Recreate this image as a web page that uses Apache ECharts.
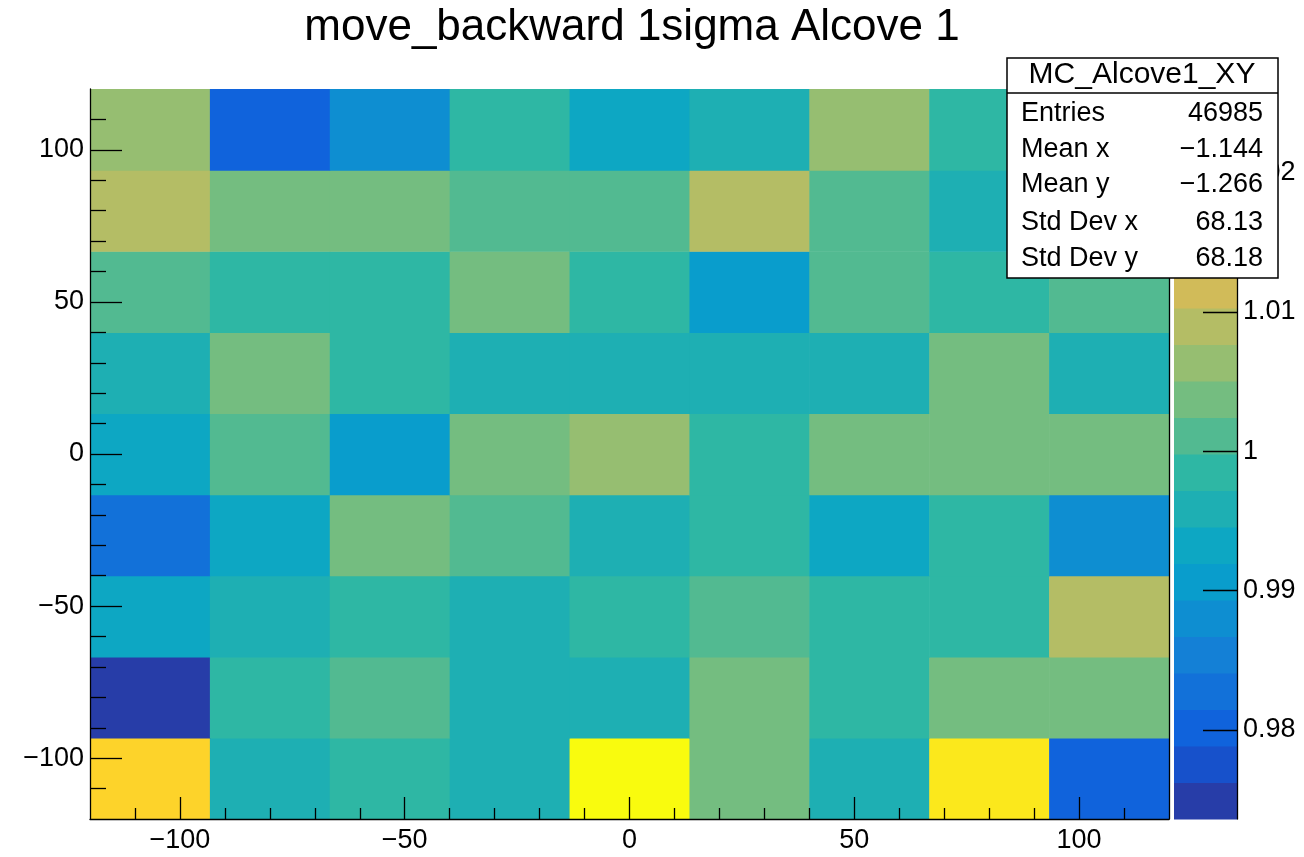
<!DOCTYPE html>
<html>
<head>
<meta charset="utf-8">
<script src="https://cdn.jsdelivr.net/npm/echarts@6/dist/echarts.min.js"></script>
<style>
html,body{margin:0;padding:0;background:#fff;}
#chart{width:1304px;height:857px;}
</style>
</head>
<body>
<div id="chart"></div>
<script>
// ---------- data ----------
const titleText = 'move_backward 1sigma Alcove 1';
const histName = 'MC_Alcove1_XY';
const xBinEdges = [-120, -93.333, -66.667, -40, -13.333, 13.333, 40, 66.667, 93.333, 120];
const yBinEdges = [-120, -93.333, -66.667, -40, -13.333, 13.333, 40, 66.667, 93.333, 120];
// rows of bin contents, from bottom (y = -120..-93) to top (y = 93..120)
const row0 = [1.0195, 0.9960, 0.9986, 0.9958, 1.0259, 1.0036, 0.9961, 1.0221, 0.9803];
const row1 = [0.9737, 0.9984, 1.0012, 0.9960, 0.9957, 1.0038, 0.9985, 1.0036, 1.0037];
const row2 = [0.9932, 0.9959, 0.9986, 0.9960, 0.9984, 1.0011, 0.9985, 0.9986, 1.0091];
const row3 = [0.9828, 0.9934, 1.0037, 1.0010, 0.9958, 0.9985, 0.9933, 0.9986, 0.9880];
const row4 = [0.9932, 1.0012, 0.9906, 1.0037, 1.0063, 0.9985, 1.0036, 1.0038, 1.0037];
const row5 = [0.9959, 1.0038, 0.9986, 0.9958, 0.9960, 0.9959, 0.9957, 1.0037, 0.9960];
const row6 = [1.0011, 0.9985, 0.9984, 1.0037, 0.9986, 0.9906, 1.0012, 0.9985, 1.0011];
const row7 = [1.0090, 1.0037, 1.0036, 1.0011, 1.0012, 1.0089, 1.0010, 0.9958, 0.9985];
const row8 = [1.0064, 0.9802, 0.9880, 0.9986, 0.9933, 0.9959, 1.0063, 0.9985, 0.9984];
const zRows = [row0, row1, row2, row3, row4, row5, row6, row7, row8];

const zMin = 0.9736, zMax = 1.0260, nContours = 20;
const birdPalette = ['#273da8','#1751cb','#1063dc','#1271d9','#1480d6','#0e8ed1','#099dcc','#0da7c3',
  '#1eafb3','#2eb7a4','#52ba91','#74bd80','#96be71','#b4bd65','#d1bb59','#e3c04a','#f5c63a','#fdd32a','#fbe81c','#f9fb0e'];

const xMajorTicks = [-100, -50, 0, 50, 100];
const xMinorTicks = [-110, -90, -80, -70, -60, -40, -30, -20, -10, 10, 20, 30, 40, 60, 70, 80, 90, 110];
const yMajorTicks = [-100, -50, 0, 50, 100];
const yMinorTicks = [-110, -90, -80, -70, -60, -40, -30, -20, -10, 10, 20, 30, 40, 60, 70, 80, 90, 110];
const zTicks = [0.98, 0.99, 1.00, 1.01, 1.02];
const zTickLabels = ['0.98', '0.99', '1', '1.01', '1.02'];

const statLabels = ['Entries', 'Mean x', 'Mean y', 'Std Dev x', 'Std Dev y'];
const statValues = ['46985', '\u22121.144', '\u22121.266', '68.13', '68.18'];

// ---------- build ----------
const FONT = "'Liberation Sans', Arial, Helvetica, sans-serif";
const cells = [];
zRows.forEach((row, j) => row.forEach((v, i) => cells.push([i, j, v])));

const bandW = (zMax - zMin) / nContours;
const pieces = [];
const bands = [];
for (let k = 0; k < nContours; k++) {
  const lo = zMin + k * bandW, hi = zMin + (k + 1) * bandW;
  const p = { gte: lo, color: birdPalette[k] };
  if (k < nContours - 1) p.lt = hi; else p.lte = hi + 1;
  if (k === 0) p.gte = lo - 1;
  pieces.push(p);
  bands.push([lo, hi, (lo + hi) / 2]);
}
const minus = s => String(s).replace('-', '\u2212');

const chart = echarts.init(document.getElementById('chart'), null, { renderer: 'canvas' });
const axisBlack = { color: '#000', width: 1.3 };
const AZ = 10;

const option = {
  animation: false,
  backgroundColor: '#fff',
  textStyle: { fontFamily: FONT },
  grid: [
    { left: 90, top: 89, width: 1079, height: 730, containLabel: false },
    { left: 1174, top: 89, width: 63, height: 730, containLabel: false }
  ],
  visualMap: {
    type: 'piecewise', show: false, dimension: 2, seriesIndex: [0, 1], pieces: pieces
  },
  xAxis: [
    { type: 'value', gridIndex: 0, min: -120, max: 120, position: 'bottom', z: AZ,
      axisLine: { show: true, onZero: false, lineStyle: axisBlack },
      axisTick: { show: true, inside: true, length: 22, lineStyle: axisBlack, customValues: xMajorTicks },
      axisLabel: { show: true, customValues: xMajorTicks, formatter: minus, color: '#000', fontSize: 27, fontFamily: FONT, margin: 8 },
      splitLine: { show: false } },
    { type: 'value', gridIndex: 0, min: -120, max: 120, position: 'bottom', z: AZ,
      axisLine: { show: false, onZero: false },
      axisTick: { show: true, inside: true, length: 11, lineStyle: axisBlack, customValues: xMinorTicks },
      axisLabel: { show: false }, splitLine: { show: false } },
    { type: 'value', gridIndex: 1, min: 0, max: 1, show: false }
  ],
  yAxis: [
    { type: 'value', gridIndex: 0, min: -120, max: 120, position: 'left', z: AZ,
      axisLine: { show: true, onZero: false, lineStyle: axisBlack },
      axisTick: { show: true, inside: true, length: 32, lineStyle: axisBlack, customValues: yMajorTicks },
      axisLabel: { show: true, customValues: yMajorTicks, formatter: minus, color: '#000', fontSize: 27, fontFamily: FONT, margin: 6 },
      splitLine: { show: false } },
    { type: 'value', gridIndex: 0, min: -120, max: 120, position: 'left', z: AZ,
      axisLine: { show: false, onZero: false },
      axisTick: { show: true, inside: true, length: 16, lineStyle: axisBlack, customValues: yMinorTicks },
      axisLabel: { show: false }, splitLine: { show: false } },
    { type: 'value', gridIndex: 0, min: -120, max: 120, position: 'right', z: AZ,
      axisLine: { show: true, onZero: false, lineStyle: axisBlack },
      axisTick: { show: false }, axisLabel: { show: false }, splitLine: { show: false } },
    { type: 'value', gridIndex: 1, min: zMin, max: zMax, position: 'right', z: AZ,
      axisLine: { show: true, onZero: false, lineStyle: axisBlack },
      axisTick: { show: true, inside: true, length: 34, lineStyle: axisBlack, customValues: zTicks },
      axisLabel: { show: true, customValues: zTicks, color: '#000', fontSize: 27, fontFamily: FONT, margin: 6,
        formatter: v => { const k = zTicks.findIndex(t => Math.abs(t - v) < 1e-6); return k >= 0 ? zTickLabels[k] : String(v); } },
      splitLine: { show: false } }
  ],
  series: [
    { type: 'custom', name: histName, coordinateSystem: 'cartesian2d', xAxisIndex: 0, yAxisIndex: 0,
      dimensions: ['ix', 'iy', 'z'], encode: { x: 0, y: 1 }, clip: true, z: 1,
      data: cells,
      renderItem: function (params, api) {
        const i = api.value(0), j = api.value(1);
        const p0 = api.coord([xBinEdges[i], yBinEdges[j + 1]]);
        const p1 = api.coord([xBinEdges[i + 1], yBinEdges[j]]);
        return { type: 'rect',
          shape: { x: p0[0], y: p0[1], width: p1[0] - p0[0] + 0.6, height: p1[1] - p0[1] + 0.6 },
          style: { fill: api.visual('color') } };
      } },
    { type: 'custom', name: 'palette', coordinateSystem: 'cartesian2d', xAxisIndex: 2, yAxisIndex: 3,
      dimensions: ['lo', 'hi', 'z'], encode: { x: 2, y: 1 }, z: 1,
      data: bands,
      renderItem: function (params, api) {
        const p0 = api.coord([0, api.value(1)]);
        const p1 = api.coord([1, api.value(0)]);
        return { type: 'rect',
          shape: { x: p0[0], y: p0[1], width: p1[0] - p0[0], height: p1[1] - p0[1] + 0.6 },
          style: { fill: api.visual('color') } };
      } }
  ],
  graphic: [
    { type: 'text', x: 632, y: 28, z: 100,
      style: { text: titleText, font: '44px ' + FONT, fill: '#000', align: 'center', verticalAlign: 'middle' } },
    { type: 'group', z: 100, children: [
      { type: 'rect', z: 100, shape: { x: 1007, y: 58, width: 271, height: 220 },
        style: { fill: '#fff', stroke: '#000', lineWidth: 1.5 } },
      { type: 'line', z: 101, shape: { x1: 1007, y1: 93, x2: 1278, y2: 93 },
        style: { stroke: '#000', lineWidth: 1.5 } },
      { type: 'text', z: 101, x: 1142, y: 75,
        style: { text: histName, font: '30px ' + FONT, fill: '#000', align: 'center', verticalAlign: 'middle' } }
    ].concat(statLabels.map((t, k) => ({ type: 'text', z: 101, x: 1021, y: [114, 150, 185, 223, 259][k],
        style: { text: t, font: '27px ' + FONT, fill: '#000', align: 'left', verticalAlign: 'middle' } })))
     .concat(statValues.map((t, k) => ({ type: 'text', z: 101, x: 1263, y: [114, 150, 185, 223, 259][k],
        style: { text: t, font: '27px ' + FONT, fill: '#000', align: 'right', verticalAlign: 'middle' } })))
    }
  ]
};
chart.setOption(option);
</script>
</body>
</html>
